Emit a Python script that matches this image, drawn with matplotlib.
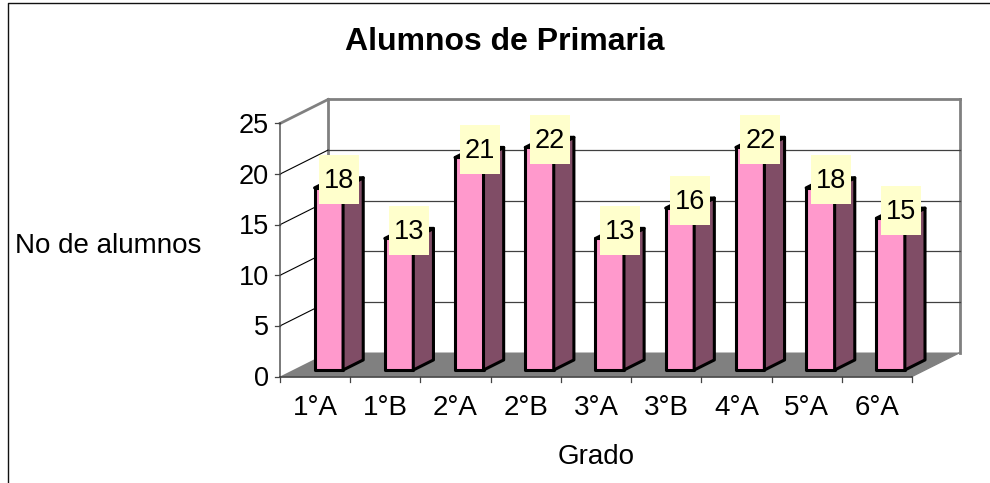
from matplotlib import pyplot as plt
from matplotlib.patches import Polygon, Rectangle

plt.rcParams['font.family'] = ['Liberation Sans', 'DejaVu Sans']

grados = ['1°A', '1°B', '2°A', '2°B', '3°A', '3°B', '4°A', '5°A', '6°A']
alumnos = [18, 13, 21, 22, 13, 16, 22, 18, 15]
yticks = [0, 5, 10, 15, 20, 25]

W, H = 990, 483
# front plane of the chart, in pixels
left, right, top, bottom = 280, 912, 123.5, 376.5
px_x = (right - left) / 9
px_y = (bottom - top) / 25
# depth of the 3d box, in data units
depth_x = 48 / px_x
depth_y = 24 / px_y

fig = plt.figure(figsize=(W / 100, H / 100), dpi=100)
ax = fig.add_axes([left / W, 1 - bottom / H, (right - left) / W, (bottom - top) / H])
ax.set_xlim(0, 9)
ax.set_ylim(0, 25)
ax.axis('off')


def pt(x, y, d=0.0):
    return (x + d * depth_x, y + d * depth_y)


def poly(points, **kw):
    kw.setdefault('clip_on', False)
    ax.add_patch(Polygon(points, closed=True, **kw))


def line(p1, p2, color, lw, z=1):
    ax.plot([p1[0], p2[0]], [p1[1], p2[1]], color=color, lw=lw, clip_on=False,
            zorder=z, solid_capstyle='projecting')


# outer border, only top and left are visible
fig.add_artist(plt.Line2D([8 / W, 8 / W, 1], [0, 1 - 2.5 / H, 1 - 2.5 / H],
                          transform=fig.transFigure, color='#111111', lw=1))

# floor
poly([pt(0, 0), pt(9, 0), pt(9, 0, 1), pt(0, 0, 1)], fc='#808080', ec='none', zorder=1)

# walls
line(pt(0, 25, 1), pt(9, 25, 1), '#808080', 2, 2)
line(pt(0, 0, 1), pt(0, 25, 1), '#808080', 2, 2)
line(pt(9, 0, 1), pt(9, 25, 1), '#808080', 2, 2)
line(pt(9, 0), pt(9, 0, 1), '#808080', 1, 2)
for v in yticks[1:-1]:
    line(pt(0, v), pt(0, v, 1), 'black', 0.8, 2)
    line(pt(0, v, 1), pt(9, v, 1), '#404040', 0.9, 2)
line(pt(0, 25), pt(0, 25, 1), '#808080', 2, 2)

# axes
line(pt(0, 0), pt(0, 25), '#555555', 1.1, 3)
line(pt(0, 0), pt(9, 0), '#333333', 1.1, 3)
for v in yticks:
    ax.plot([-5.5 / px_x, 0], [v, v], color='#444444', lw=0.9, clip_on=False, zorder=3)
    ax.annotate(str(v), (0, v), xytext=(-11, -2.5), textcoords='offset pixels',
                ha='right', va='center', fontsize=19.5, annotation_clip=False)
for i in range(10):
    ax.plot([i, i], [0, -5.5 / px_y], color='#444444', lw=0.9, clip_on=False, zorder=3)

# bars
bar_w = 28.5 / px_x
d0, d1 = 0.27, 0.69
for i, v in enumerate(alumnos):
    x0 = i + 0.5 - 13.5 / px_x
    x1 = x0 + bar_w
    poly([pt(x0, 0, d0), pt(x1, 0, d0), pt(x1, v, d0), pt(x0, v, d0)],
         fc='#ff99cc', ec='black', lw=2.2, joinstyle='round', zorder=4 + i * 0.1)
    poly([pt(x1, 0, d0), pt(x1, 0, d1), pt(x1, v, d1), pt(x1, v, d0)],
         fc='#804d66', ec='black', lw=2.2, joinstyle='round', zorder=4 + i * 0.1)
    poly([pt(x0, v, d0), pt(x1, v, d0), pt(x1, v, d1), pt(x0, v, d1)],
         fc='#ff99cc', ec='black', lw=2.2, joinstyle='round', zorder=4 + i * 0.1)

# data labels
box_w = 40 / px_x
box_h = 49 / px_y
for i, v in enumerate(alumnos):
    cx, cy = pt(i + 0.5 + 1 / px_x, v + 3 / px_y, 0.48)
    ax.add_patch(Rectangle((cx - box_w / 2, cy - box_h / 2), box_w, box_h, fc='#ffffcc',
                           ec='none', clip_on=False, zorder=8))
    ax.annotate(str(v), (cx, cy), xytext=(0, -1.5), textcoords='offset pixels', ha='center',
                va='center', fontsize=19.5, zorder=9, annotation_clip=False)

# category labels
for i, g in enumerate(grados):
    ax.annotate(g, (i + 0.5, 0), xytext=(0, -31.5), textcoords='offset pixels',
                ha='center', va='center', fontsize=20, annotation_clip=False)

fig.text(505 / W, 1 - 42.5 / H, 'Alumnos de Primaria', ha='center', va='center',
         fontsize=23, fontweight='bold')
fig.text(108.5 / W, 1 - 246 / H, 'No de alumnos', ha='center', va='center', fontsize=20)
fig.text(596 / W, 1 - 457 / H, 'Grado', ha='center', va='center', fontsize=20)

fig.savefig('out.png', dpi=100)
